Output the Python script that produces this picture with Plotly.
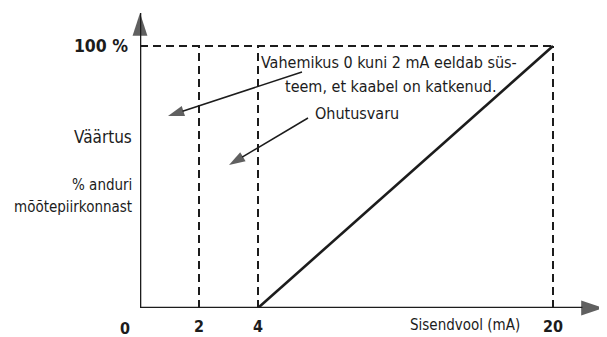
import plotly.graph_objects as go

# ---- data ----
tick_mA = [0, 2, 4, 20]
tick_labels = ["0", "2", "4", "20"]
boundary_mA = [2, 4, 20]          # dashed vertical markers
signal_mA = [4, 20]               # linear output
signal_pct = [0, 100]
full_scale_pct = 100

# ---- scale helpers (broken x scale: 0-4 mA expanded, 4-20 mA compressed) ----
def xpos(mA):
    return mA if mA <= 4 else 4 + (mA - 4) * 10 / 16

OFF = 8                       # page body margin
W, H = 607 - OFF, 337 - OFF
X0, Y0 = 140, 308             # axis origin in page pixels
L, B, R, T = X0 - OFF, H - (Y0 - OFF), 2, 0
PW, PH = W - L - R, H - B - T
PX_PER_X = 29.5
PX_PER_Y = 2.62
XMAX = PW / PX_PER_X
YMAX = PH / PX_PER_Y

def xd(px):
    return (px - X0) / PX_PER_X

def yd(py):
    return (Y0 - py) / PX_PER_Y

def xp(px):
    return (px - X0) / PW

def yp(py):
    return (Y0 - py) / PH

FONT = "Liberation Sans Narrow, DejaVu Sans Condensed, Roboto, sans-serif"
INK = "#1c1c1c"

fig = go.Figure()

dash = dict(color=INK, width=2, dash="8px,5px")
fig.add_trace(go.Scatter(x=[0, xpos(20)], y=[full_scale_pct, full_scale_pct],
                         mode="lines", line=dash, hoverinfo="skip"))
for b in boundary_mA:
    fig.add_trace(go.Scatter(x=[xpos(b), xpos(b)], y=[0, full_scale_pct],
                             mode="lines", line=dash, hoverinfo="skip"))

fig.add_trace(go.Scatter(x=[xpos(v) for v in signal_mA], y=signal_pct,
                         mode="lines", line=dict(color=INK, width=2.6), hoverinfo="skip"))

arrow_marker = dict(symbol="arrow", size=[0, 24], angleref="previous", color=INK,
                    line=dict(width=0))
fig.add_trace(go.Scatter(x=[0, xd(604)], y=[0, 0], mode="lines+markers",
                         line=dict(color=INK, width=2.6), marker=arrow_marker,
                         cliponaxis=False, hoverinfo="skip"))
fig.add_trace(go.Scatter(x=[0, 0], y=[0, yd(13)], mode="lines+markers",
                         line=dict(color=INK, width=2.6), marker=arrow_marker,
                         cliponaxis=False, hoverinfo="skip"))

small_marker = dict(symbol="arrow", size=[0, 17], angleref="previous", color=INK,
                    line=dict(width=0))
for (x0, y0, x1, y1) in [(302, 72, 168, 116), (308, 118, 229, 165)]:
    fig.add_trace(go.Scatter(x=[xd(x0), xd(x1)], y=[yd(y0), yd(y1)], mode="lines+markers",
                             line=dict(color=INK, width=1.5), marker=small_marker,
                             cliponaxis=False, hoverinfo="skip"))

def txt(text, px, py, size=15, anchor="center", bold=False):
    fig.add_annotation(x=xp(px), y=yp(py), xref="paper", yref="paper", text=text,
                       showarrow=False, xanchor=anchor, yanchor="middle",
                       font=dict(family=FONT, size=size, color=INK,
                                 weight="bold" if bold else "normal"))

txt("Vahemikus 0 kuni 2 mA eeldab süs-", 389, 62, size=16)
txt("teem, et kaabel on katkenud.", 390, 86, size=16)
txt("Ohutusvaru", 313, 113, size=16, anchor="left")
txt("Väärtus", 134, 137, size=17, anchor="right")
txt("% anduri", 134, 185, anchor="right")
txt("mõõtepiirkonnast", 134, 207, anchor="right")
txt("Sisendvool (mA)", 465, 325)
txt(tick_labels[0], 125, 328, size=16, bold=True)

fig.update_layout(
    width=W, height=H, margin=dict(l=L, r=R, t=T, b=B),
    plot_bgcolor="white", paper_bgcolor="white", showlegend=False,
    xaxis=dict(range=[0, XMAX], showgrid=False, zeroline=False, showline=False,
               tickvals=[xpos(v) for v in tick_mA[1:]], ticktext=tick_labels[1:],
               tickfont=dict(family=FONT, size=16, color=INK, weight="bold"),
               ticklabelstandoff=7, fixedrange=True),
    yaxis=dict(range=[0, YMAX], showgrid=False, zeroline=False, showline=False,
               tickvals=[full_scale_pct], ticktext=["100 %"],
               tickfont=dict(family=FONT, size=17.5, color=INK, weight="bold"),
               ticklabelstandoff=11, fixedrange=True),
)

fig.write_html("out.html")
